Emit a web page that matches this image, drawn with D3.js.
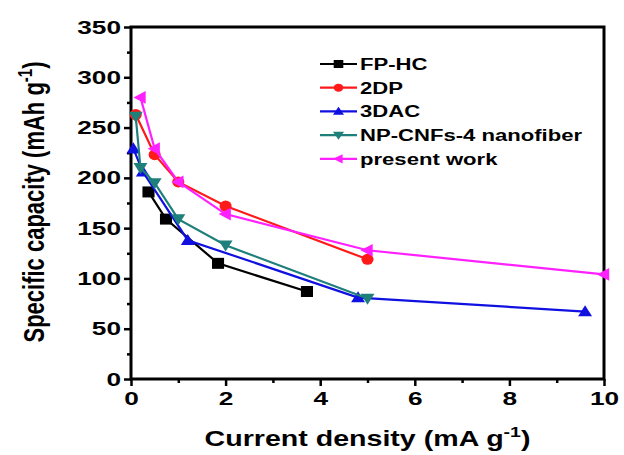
<!DOCTYPE html>
<html>
<head>
<meta charset="utf-8">
<script src="https://cdn.jsdelivr.net/npm/d3@7"></script>
<style>
  body { margin: 0; background: #fff; }
  text { font-family: Arial, "Liberation Sans", sans-serif; font-weight: bold; }
</style>
</head>
<body>
<svg id="chart" width="624" height="455"></svg>
<script>
// data
const seriesNames = ['FP-HC', '2DP', '3DAC', 'NP-CNFs-4 nanofiber', 'present work']
const seriesColors = ['#000000', '#ff1a1a', '#1010e0', '#1f7f7a', '#ff20ff']
const seriesSymbols = ['square', 'circle', 'triUp', 'triDown', 'triLeft']

const fpHc = [[0.37, 186], [0.74, 159], [1.84, 115], [3.72, 87]]
const twoDp = [[0.1, 263], [0.5, 223], [1.0, 196], [2.0, 172], [5.0, 119]]
const threeDac = [[0.05, 229], [0.25, 206], [1.2, 138], [4.8, 81], [9.6, 67]]
const npCnfs = [[0.1, 261], [0.2, 210], [0.5, 195], [1.0, 159], [2.0, 133], [5.0, 80]]
const presentWork = [[0.2, 280], [0.5, 229], [1.0, 196], [2.0, 164], [5.0, 128], [10.0, 104]]

const xTicks = [0, 2, 4, 6, 8, 10]
const yTicks = [0, 50, 100, 150, 200, 250, 300, 350]

const allSeries = [fpHc, twoDp, threeDac, npCnfs, presentWork]

// the source picture is stretched sideways, so text is too
const stretch = 1.38

const svg = d3.select('#chart')
const margin = { left: 131, right: 20, top: 27, bottom: 76 }
const width = 624 - margin.left - margin.right
const height = 455 - margin.top - margin.bottom

const x = d3.scaleLinear().domain([0, 10]).range([0, width])
const y = d3.scaleLinear().domain([0, 350]).range([height, 0])

const g = svg.append('g').attr('transform', `translate(${margin.left},${margin.top})`)

// minor ticks
const xMinor = d3.axisBottom(x).tickValues(d3.range(1, 10, 2)).tickSize(4).tickFormat('')
const yMinor = d3.axisLeft(y).tickValues(d3.range(25, 350, 50)).tickSize(4).tickFormat('')
g.append('g').attr('transform', `translate(0,${height})`).call(xMinor)
g.append('g').call(yMinor)

const xAxis = d3.axisBottom(x).tickValues(xTicks).tickSize(7).tickPadding(6).tickFormat(d3.format('d'))
const yAxis = d3.axisLeft(y).tickValues(yTicks).tickSize(7).tickPadding(3).tickFormat(d3.format('d'))
g.append('g').attr('class', 'x-axis').attr('transform', `translate(0,${height})`).call(xAxis)
g.append('g').attr('class', 'y-axis').call(yAxis)

g.selectAll('.domain').remove()
g.selectAll('.tick line').attr('stroke', '#000').attr('stroke-width', 2.5)
g.selectAll('.tick text').attr('fill', '#000').style('font-size', '19px')
g.selectAll('.x-axis .tick text').attr('transform', `scale(${stretch},1)`)
g.selectAll('.y-axis .tick text')
  .attr('x', -10 / stretch)
  .attr('transform', `scale(${stretch},1)`)

// frame
g.append('rect')
  .attr('width', width).attr('height', height)
  .attr('fill', 'none').attr('stroke', '#000').attr('stroke-width', 3)

// symbols
function symbolPath (kind, s) {
  if (kind === 'square') return `M${-s},${-s}H${s}V${s}H${-s}Z`
  if (kind === 'circle') return `M${-s},0A${s},${s} 0 1,0 ${s},0A${s},${s} 0 1,0 ${-s},0`
  const h = s * 1.15
  if (kind === 'triUp') return `M0,${-h}L${h},${h * 0.75}L${-h},${h * 0.75}Z`
  if (kind === 'triDown') return `M0,${h}L${h},${-h * 0.75}L${-h},${-h * 0.75}Z`
  return `M${-h},0L${h * 0.75},${-h}L${h * 0.75},${h}Z`
}

const line = d3.line().x(d => x(d[0])).y(d => y(d[1]))

allSeries.forEach((data, i) => {
  g.append('path')
    .datum(data)
    .attr('d', line)
    .attr('fill', 'none')
    .attr('stroke', seriesColors[i])
    .attr('stroke-width', 2.2)

  g.selectAll(`.pt-${i}`)
    .data(data)
    .enter()
    .append('path')
    .attr('class', `pt-${i}`)
    .attr('d', symbolPath(seriesSymbols[i], 5.5))
    .attr('transform', d => `translate(${x(d[0])},${y(d[1])}) scale(1.1,1)`)
    .attr('fill', seriesColors[i])
})

// legend
const legend = svg.append('g').attr('transform', 'translate(320,64)')
seriesNames.forEach((name, i) => {
  const row = legend.append('g').attr('transform', `translate(0,${i * 23.7})`)
  row.append('line')
    .attr('x1', 0).attr('x2', 37).attr('y1', 0).attr('y2', 0)
    .attr('stroke', seriesColors[i]).attr('stroke-width', 2.2)
  row.append('path')
    .attr('d', symbolPath(seriesSymbols[i], 4))
    .attr('transform', 'translate(18.5,0) scale(1.2,1)')
    .attr('fill', seriesColors[i])
  row.append('text')
    .attr('transform', `translate(40,6) scale(1.3,1)`)
    .style('font-size', '17px')
    .text(name)
})

// axis titles
const xTitle = svg.append('text')
  .attr('transform', `translate(${margin.left + width / 2},446) scale(1.3,1)`)
  .attr('text-anchor', 'middle')
  .style('font-size', '22px')
xTitle.append('tspan').text('Current density (mA g')
xTitle.append('tspan').attr('dy', -9).style('font-size', '15px').text('-1')
xTitle.append('tspan').attr('dy', 9).text(')')

const yTitle = svg.append('text')
  .attr('transform', `translate(44,202) scale(1.35,1) rotate(-90)`)
  .attr('text-anchor', 'middle')
  .style('font-size', '22px')
yTitle.append('tspan').text('Specific capacity (mAh g')
yTitle.append('tspan').attr('dy', -9).style('font-size', '15px').text('-1')
yTitle.append('tspan').attr('dy', 9).text(')')
</script>
</body>
</html>
